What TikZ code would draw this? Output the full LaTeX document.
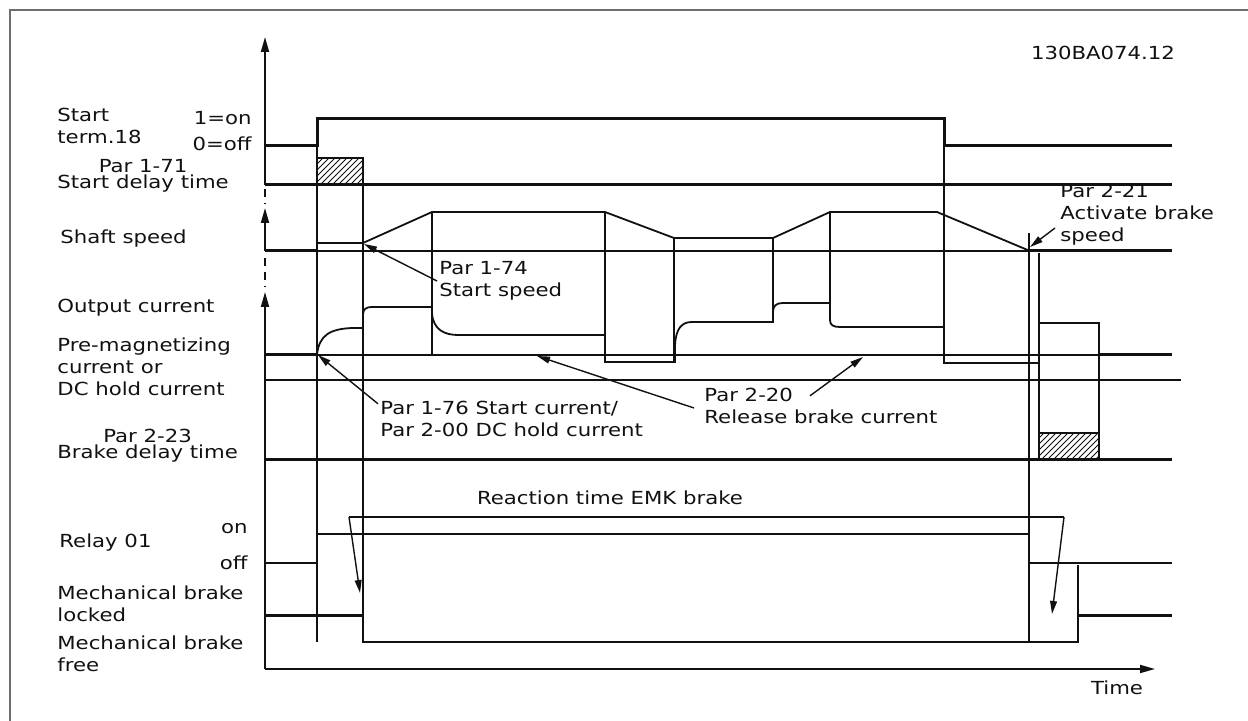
\documentclass[tikz,border=0pt]{standalone}
\usepackage{fontspec}
\setmainfont{DejaVu Sans}[FakeStretch=1.18]
\usepackage{tikz}
\usetikzlibrary{positioning,arrows.meta,patterns,calc}
\definecolor{tdink}{HTML}{111111}
\definecolor{tdframe}{HTML}{6E6E6E}

\begin{document}
\begin{tikzpicture}[
  x=0.5pt, y=-0.5pt,
  font=\fontsize{9}{11}\selectfont,
  lbl/.style={inner sep=1pt, align=left, text=tdink},
  frame/.style={line width=0.6pt, draw=tdframe},
  grid/.style={line width=0.6pt, draw=tdink},
  trace/.style={line width=0.9pt, draw=tdink},
  sig/.style={line width=1.5pt, draw=tdink},
  hatch/.style={draw=tdink, line width=0.7pt, pattern=north east lines, pattern color=tdink},
  axis/.style={line width=0.9pt, draw=tdink, -{Triangle[length=7.5pt,width=4pt]}},
  ptr/.style={line width=0.7pt, draw=tdink, -{Triangle[length=6.5pt,width=3.4pt]}},
  brk/.style={line width=0.7pt, draw=tdink, dash pattern=on 4pt off 3pt}
]
\useasboundingbox (0,0) rectangle (1248,721);
\draw[frame] (10,721) -- (10,10) -- (1248,10);

\node[lbl] (dwg) at (1103,53) {130BA074.12};

\node[lbl, anchor=west] (lstart) at (55,126) {Start\\term.18};
\node[lbl, anchor=east] (lon1) at (254,118) {1=on};
\node[lbl, anchor=east] (loff1) at (254,144) {0=off};
\node[lbl, align=center, anchor=west] (lsdt) at (55,176) {Par 1-71\\[-3pt]Start delay time};
\node[lbl, anchor=west] (lspd) at (58,239) {Shaft speed};
\node[lbl, anchor=west] (lcur) at (55,308) {Output current};
\node[lbl, anchor=west] (lpre) at (55,367) {Pre-magnetizing\\current or\\DC hold current};
\node[lbl, align=center, anchor=west] (lbdt) at (55,446) {Par 2-23\\[-3pt]Brake delay time};
\node[lbl, anchor=east] (lon2) at (250,529) {on};
\node[lbl, anchor=east] (loff2) at (250,563) {off};
\node[lbl, anchor=west] (lrel) at (57,543) {Relay 01};
\node[lbl, anchor=west] (llck) at (55,604) {Mechanical brake\\locked};
\node[lbl, anchor=west] (lfree) at (55,654) {Mechanical brake\\free};
\node[lbl] (ltime) at (1117,688) {Time};

\draw[axis] (265,185) -- (265,37);
\draw[brk] (265,189) -- (265,204);
\draw[axis] (265,251) -- (265,208);
\draw[brk] (265,258) -- (265,287);
\draw[axis] (265,669) -- (265,292);
\draw[axis] (265,669) -- (1155,669);

\draw[grid] (317,119) -- (317,642);
\draw[grid] (363,158) -- (363,642);
\draw[grid] (432,212) -- (432,355);
\draw[grid] (605,212) -- (605,362);
\draw[grid] (674,238) -- (674,362);
\draw[grid] (773,238) -- (773,322);
\draw[grid] (830,212) -- (830,303);
\draw[grid] (944,119) -- (944,363);
\draw[grid] (1029,233) -- (1029,642);
\draw[grid] (1039,253) -- (1039,460);
\draw[grid] (1099,323) -- (1099,460);
\draw[grid] (1078,565) -- (1078,642);
\draw[grid] (265,251) -- (1172,251);
\draw[grid] (265,355) -- (1172,355);
\draw[grid] (265,380) -- (1181,380);

\draw[sig] (265,146) -- (317,146) -- (317,119) -- (944,119) -- (944,146) -- (1172,146);
\draw[sig] (265,185) -- (1172,185);
\draw[hatch] (317,158) rectangle (363,185);

\draw[sig] (265,251) -- (317,251);
\draw[trace] (317,251) -- (317,243) -- (363,243) -- (432,212) -- (605,212) -- (674,238) -- (773,238) -- (830,212) -- (937,212) -- (1030,251);
\draw[sig] (1030,251) -- (1172,251);

\draw[sig] (265,355) -- (317,355);
\draw[trace] (317,355) .. controls (319,335) and (330,329) .. (352,328) -- (363,328) -- (363,315) .. controls (363,309) and (366,307) .. (372,307) -- (432,307) -- (432,313) .. controls (433,330) and (445,335) .. (458,335) -- (605,335) -- (605,362) -- (675,362) -- (675,345) .. controls (676,328) and (682,322) .. (692,322) -- (773,322) -- (773,312) .. controls (773,306) and (776,303) .. (783,303) -- (830,303) -- (830,320) .. controls (830,325) and (833,327) .. (840,327) -- (944,327) -- (944,363) -- (1039,363) -- (1039,323) -- (1099,323) -- (1099,355);
\draw[sig] (1099,355) -- (1172,355);

\draw[sig] (265,460) -- (1172,460);
\draw[hatch] (1039,433) rectangle (1099,460);

\draw[trace] (265,563) -- (317,563) -- (317,534) -- (1029,534) -- (1029,563) -- (1172,563);

\draw[sig] (265,615) -- (363,615);
\draw[trace] (363,615) -- (363,642) -- (1078,642) -- (1078,615);
\draw[sig] (1078,615) -- (1172,615);

\node[lbl] (lrt) at (610,498) {Reaction time EMK brake};
\coordinate (rtl) at (349,517);
\coordinate (rtr) at (1064,517);
\coordinate (rtl0) at (360,593);
\coordinate (rtr0) at (1052,614);
\draw[grid] (rtl) -- (rtr);
\draw[ptr] (rtl) -- (rtl0);
\draw[ptr] (rtr) -- (rtr0);

\node[lbl, anchor=west] (p174) at (437,281) {Par 1-74\\Start speed};
\coordinate (spd0) at (364,244);
\draw[ptr] (p174.west) -- (spd0);

\node[lbl, anchor=west] (p176) at (378,419) {Par 1-76 Start current/\\Par 2-00 DC hold current};
\coordinate (cur0) at (318,355);
\draw[ptr] ($(p176.north west)+(0,5)$) -- (cur0);

\node[lbl, anchor=west] (p220) at (702,406) {Par 2-20\\Release brake current};
\coordinate (rel1) at (537,356);
\coordinate (rel2) at (863,357);
\draw[ptr] ($(p220.west)+(-8,2)$) -- (rel1);
\draw[ptr] ($(p220.north west)+(108,10)$) -- (rel2);

\node[lbl, anchor=west] (p221) at (1058,215) {Par 2-21\\Activate brake\\speed};
\coordinate (spd1) at (1030,247);
\draw[ptr] ($(p221.west)+(-3,13)$) -- (spd1);
\end{tikzpicture}
\end{document}
